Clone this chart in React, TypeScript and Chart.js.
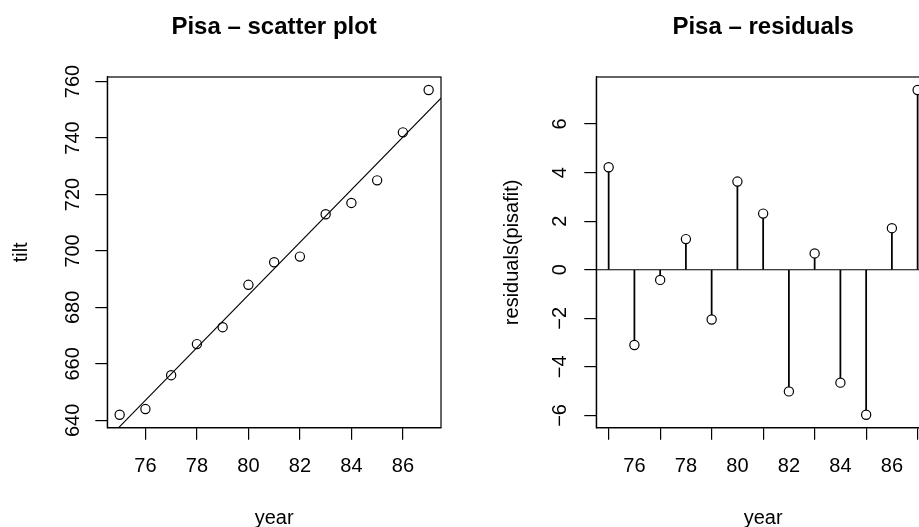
import React, { useEffect, useRef } from "react";
import { Chart, registerables } from "chart.js";

Chart.register(...registerables);

// ---- data ----
const years = [75, 76, 77, 78, 79, 80, 81, 82, 83, 84, 85, 86, 87];
const tilt = [642, 644, 656, 667, 673, 688, 696, 698, 713, 717, 725, 742, 757];
const residualValues = [4.22, -3.1, -0.42, 1.26, -2.05, 3.63, 2.31, -5.01, 0.67, -4.65, -5.97, 1.71, 7.4];
const xTickValues = [76, 78, 80, 82, 84, 86];
const tiltTickValues = [640, 660, 680, 700, 720, 740, 760];
const residualTickValues = [-6, -4, -2, 0, 2, 4, 6];
const plotTitles = ["Pisa \u2013 scatter plot", "Pisa \u2013 residuals"];
const xLabel = "year";
const yLabels = ["tilt", "residuals(pisafit)"];

const FONT = "'Liberation Sans', Arial, Helvetica, sans-serif";

// R-style axis range (4% extension)
function rRange(arr: number[]): [number, number] {
  const lo = Math.min(...arr);
  const hi = Math.max(...arr);
  const d = (hi - lo) * 0.04;
  return [lo - d, hi + d];
}

// least squares fit of tilt on year
function fitLine(xs: number[], ys: number[]) {
  const n = xs.length;
  const mx = xs.reduce((a, b) => a + b, 0) / n;
  const my = ys.reduce((a, b) => a + b, 0) / n;
  let sxy = 0;
  let sxx = 0;
  for (let i = 0; i < n; i++) {
    sxy += (xs[i] - mx) * (ys[i] - my);
    sxx += (xs[i] - mx) * (xs[i] - mx);
  }
  const b = sxy / sxx;
  return { a: my - b * mx, b };
}

const fmt = (v: number) => (v < 0 ? "\u2212" + Math.abs(v) : String(v));

const framePlugin = {
  id: "rframe",
  afterDraw(chart: any) {
    const { ctx, chartArea } = chart;
    const opts = chart.options.plugins.rframe || {};
    ctx.save();
    ctx.strokeStyle = "#000";
    ctx.lineWidth = 1.2;
    ctx.strokeRect(chartArea.left, chartArea.top, chartArea.right - chartArea.left, chartArea.bottom - chartArea.top);
    ctx.fillStyle = "#000";
    ctx.font = "bold 24px " + FONT;
    ctx.textAlign = "center";
    ctx.textBaseline = "alphabetic";
    ctx.fillText(opts.text || "", (chartArea.left + chartArea.right) / 2, opts.baseline || 34);
    ctx.restore();
  },
};

function makeOptions(p: {
  xRange: [number, number];
  yRange: [number, number];
  yTicks: number[];
  yTitle: string;
  yWidth: number;
  yTitlePad: number;
  yTickPad: number;
  padRight: number;
  title: string;
}) {
  const axisFont = { family: FONT, size: 20 };
  return {
    responsive: false,
    animation: false,
    devicePixelRatio: 1,
    layout: { padding: { left: 0, top: 77, right: p.padRight, bottom: 0 } },
    plugins: {
      legend: { display: false },
      tooltip: { enabled: false },
      title: { display: false },
      rframe: { text: p.title, baseline: 34 },
    },
    scales: {
      x: {
        type: "linear",
        min: p.xRange[0],
        max: p.xRange[1],
        offset: false,
        afterBuildTicks: (s: any) => {
          s.ticks = xTickValues.map((v) => ({ value: v }));
        },
        afterFit: (s: any) => {
          s.height = 99.3;
        },
        grid: { display: true, drawOnChartArea: false, drawTicks: true, tickLength: 12, color: "#000", lineWidth: 1.2 },
        border: { display: true, color: "#000", width: 1.2 },
        ticks: { color: "#000", font: axisFont, padding: 15, autoSkip: false, minRotation: 0, maxRotation: 0, callback: (v: number) => fmt(v) },
        title: { display: true, text: xLabel, color: "#000", font: axisFont, padding: { top: 0, bottom: -3.5 } },
      },
      y: {
        type: "linear",
        min: p.yRange[0],
        max: p.yRange[1],
        afterBuildTicks: (s: any) => {
          s.ticks = p.yTicks.map((v) => ({ value: v }));
        },
        afterFit: (s: any) => {
          s.width = p.yWidth;
        },
        grid: { display: true, drawOnChartArea: false, drawTicks: true, tickLength: 12, color: "#000", lineWidth: 1.2 },
        border: { display: true, color: "#000", width: 1.2 },
        ticks: { color: "#000", font: axisFont, padding: p.yTickPad, autoSkip: false, minRotation: 90, maxRotation: 90, crossAlign: "center", callback: (v: number) => fmt(v) },
        title: { display: true, text: p.yTitle, color: "#000", font: axisFont, padding: { top: p.yTitlePad, bottom: 0 } },
      },
    },
  };
}

export default function App() {
  const leftRef = useRef<HTMLCanvasElement | null>(null);
  const rightRef = useRef<HTMLCanvasElement | null>(null);

  useEffect(() => {
    const xRange = rRange(years);
    const tiltRange = rRange(tilt);
    const resRange = rRange(residualValues);
    const { a, b } = fitLine(years, tilt);

    const left = new Chart(leftRef.current as HTMLCanvasElement, {
      type: "scatter",
      data: {
        datasets: [
          {
            type: "scatter",
            data: years.map((x, i) => ({ x, y: tilt[i] })),
            pointRadius: 4.6,
            pointBorderWidth: 1.2,
            borderColor: "#000",
            backgroundColor: "rgba(0,0,0,0)",
          },
          {
            type: "line",
            data: [
              { x: xRange[0], y: a + b * xRange[0] },
              { x: xRange[1], y: a + b * xRange[1] },
            ],
            borderColor: "#000",
            borderWidth: 1.1,
            pointRadius: 0,
            fill: false,
          },
        ],
      } as any,
      options: makeOptions({
        xRange,
        yRange: tiltRange,
        yTicks: tiltTickValues,
        yTitle: yLabels[0],
        yWidth: 107.3,
        yTitlePad: 9,
        yTickPad: 5.3,
        padRight: 18,
        title: plotTitles[0],
      }) as any,
      plugins: [framePlugin],
    });

    const right = new Chart(rightRef.current as HTMLCanvasElement, {
      type: "scatter",
      data: {
        datasets: [
          {
            type: "scatter",
            data: years.map((x, i) => ({ x, y: residualValues[i] })),
            pointRadius: 4.6,
            pointBorderWidth: 1.2,
            borderColor: "#000",
            backgroundColor: "#fff",
          },
          {
            type: "bar",
            data: years.map((x, i) => ({ x, y: residualValues[i] })),
            barThickness: 1.1,
            backgroundColor: "#000",
            borderWidth: 0,
          },
          {
            type: "line",
            data: [
              { x: xRange[0], y: 0 },
              { x: xRange[1], y: 0 },
            ],
            borderColor: "#000",
            borderWidth: 1.1,
            pointRadius: 0,
            fill: false,
          },
        ],
      } as any,
      options: makeOptions({
        xRange,
        yRange: resRange,
        yTicks: residualTickValues,
        yTitle: yLabels[1],
        yWidth: 137.3,
        yTitlePad: 41,
        yTickPad: 12.9,
        padRight: 9,
        title: plotTitles[1],
      }) as any,
      plugins: [framePlugin],
    });

    return () => {
      left.destroy();
      right.destroy();
    };
  }, []);

  return (
    <div style={{ position: "fixed", left: 0, top: 0, width: 919, height: 527, overflow: "hidden", background: "#fff" }}>
      <div style={{ position: "absolute", left: 0, top: 0, width: 459, height: 527 }}>
        <canvas ref={leftRef} width={459} height={527} style={{ display: "block" }} />
      </div>
      <div style={{ position: "absolute", left: 459, top: 0, width: 480, height: 527 }}>
        <canvas ref={rightRef} width={480} height={527} style={{ display: "block" }} />
      </div>
    </div>
  );
}
